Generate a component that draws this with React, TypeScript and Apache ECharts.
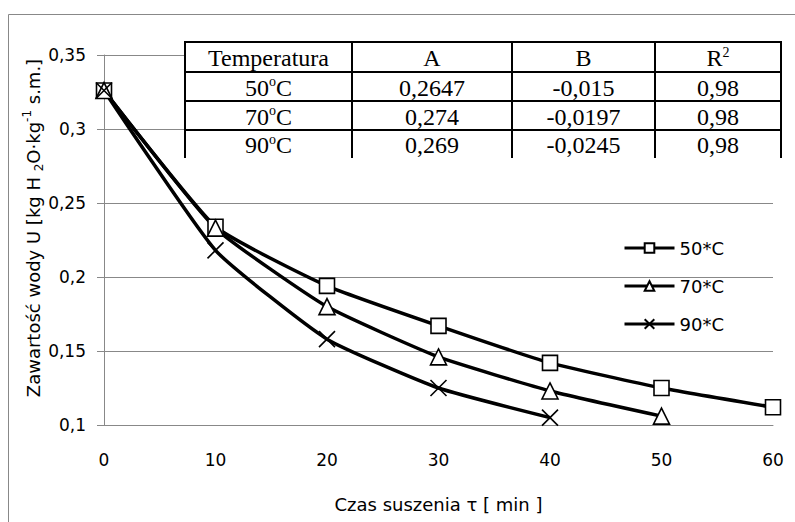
import React, { useEffect, useRef } from "react";
import * as echarts from "echarts";

// ---- data ----
const times = [0, 10, 20, 30, 40, 50, 60];
const u50 = [0.326, 0.234, 0.194, 0.167, 0.142, 0.125, 0.112];
const u70 = [0.326, 0.233, 0.18, 0.146, 0.123, 0.106];
const u90 = [0.326, 0.218, 0.158, 0.125, 0.105];
const seriesNames = ["50*C", "70*C", "90*C"];

const tableHeader = ["Temperatura", "A", "B", "R2"];
const tableTemps = ["50", "70", "90"];
const tableA = ["0,2647", "0,274", "0,269"];
const tableB = ["-0,015", "-0,0197", "-0,0245"];
const tableR2 = ["0,98", "0,98", "0,98"];

const xTitle = "Czas suszenia τ [ min ]";

// ---- layout ----
const colX = [185, 352, 512, 655, 781];
const rowY = [42, 72, 101, 130, 158];
const SANS = "DejaVu Sans";
const SERIF = "Liberation Serif";

function buildTable(): any[] {
  const els: any[] = [];
  els.push({
    type: "rect",
    z: 100,
    shape: { x: colX[0], y: rowY[0], width: colX[4] - colX[0], height: rowY[4] - rowY[0] },
    style: { fill: "#fff", stroke: null },
  });
  for (let i = 0; i < 4; i++) {
    els.push({
      type: "line",
      z: 101,
      shape: { x1: colX[0] - 1, y1: rowY[i], x2: colX[4] + 1, y2: rowY[i] },
      style: { stroke: "#000", lineWidth: 2 },
    });
  }
  for (let i = 0; i < colX.length; i++) {
    els.push({
      type: "line",
      z: 101,
      shape: { x1: colX[i], y1: rowY[0], x2: colX[i], y2: rowY[4] },
      style: { stroke: "#000", lineWidth: 2 },
    });
  }
  const rich = {
    n: { fontFamily: SERIF, fontSize: 24, lineHeight: 26, fill: "#000" },
    s: { fontFamily: SERIF, fontSize: 14, lineHeight: 13, verticalAlign: "top", fill: "#000" },
  };
  const rows: string[][] = [];
  rows.push([
    `{n|${tableHeader[0]}}`,
    `{n|${tableHeader[1]}}`,
    `{n|${tableHeader[2]}}`,
    `{n|${tableHeader[3][0]}}{s|${tableHeader[3].slice(1)}}`,
  ]);
  for (let r = 0; r < tableTemps.length; r++) {
    rows.push([
      `{n|${tableTemps[r]}}{s|o}{n|C}`,
      `{n|${tableA[r]}}`,
      `{n|${tableB[r]}}`,
      `{n|${tableR2[r]}}`,
    ]);
  }
  rows.forEach((row, r) => {
    row.forEach((txt, c) => {
      els.push({
        type: "text",
        z: 102,
        x: (colX[c] + colX[c + 1]) / 2,
        y: (rowY[r] + rowY[r + 1]) / 2 + 1,
        style: {
          text: txt,
          rich,
          align: "center",
          verticalAlign: "middle",
          fill: "#000",
        },
      });
    });
  });
  return els;
}

export default function App() {
  const ref = useRef<HTMLDivElement>(null);
  useEffect(() => {
    if (!ref.current) return;
    const chart = echarts.init(ref.current, null, { renderer: "svg" });
    const fmt = (v: number) => String(+v.toFixed(2)).replace(".", ",");
    const mkSeries = (name: string, vals: number[], symbol: string, size: number) => ({
      name,
      type: "line",
      data: vals.map((v, i) => [times[i], v]),
      smooth: 0.15,
      symbol,
      symbolSize: size,
      showSymbol: true,
      lineStyle: { color: "#000", width: 3.5 },
      itemStyle: { color: "#fff", borderColor: "#000", borderWidth: 1.6 },
      emphasis: { disabled: true },
    });
    chart.setOption({
      animation: false,
      backgroundColor: "#fff",
      grid: { left: 104, right: 22, top: 55, bottom: 97, containLabel: false },
      legend: {
        orient: "vertical",
        left: 618,
        top: 234,
        itemWidth: 50,
        itemHeight: 12,
        itemGap: 20,
        data: seriesNames,
        lineStyle: { width: 3, color: "#000" },
        textStyle: { fontFamily: SANS, fontSize: 18, color: "#000" },
      },
      xAxis: {
        type: "value",
        min: 0,
        max: 60,
        interval: 10,
        axisLine: { show: true, lineStyle: { color: "#888", width: 1 } },
        axisTick: { show: false },
        splitLine: { show: false },
        axisLabel: { margin: 26, fontFamily: SANS, fontSize: 17, color: "#000" },
        name: xTitle,
        nameLocation: "middle",
        nameGap: 70,
        nameTextStyle: { fontFamily: SANS, fontSize: 18, color: "#000" },
      },
      yAxis: {
        type: "value",
        min: 0.1,
        max: 0.35,
        interval: 0.05,
        axisLine: { show: true, lineStyle: { color: "#888", width: 1 } },
        axisTick: { show: true, length: 7, lineStyle: { color: "#888" } },
        splitLine: { show: true, lineStyle: { color: "#888", width: 1 } },
        axisLabel: {
          margin: 18,
          fontFamily: SANS,
          fontSize: 17,
          color: "#000",
          formatter: (v: number) => fmt(v),
        },
      },
      series: [
        mkSeries(seriesNames[0], u50, "rect", 15),
        mkSeries(seriesNames[1], u70, "triangle", 16),
        mkSeries(seriesNames[2], u90, "path://M0,0L10,10M10,0L0,10", 16),
      ],
      graphic: [
        {
          type: "rect",
          z: -1,
          shape: { x: 8.5, y: 14.5, width: 820, height: 560 },
          style: { fill: null, stroke: "#888", lineWidth: 1 },
          silent: true,
        },
        {
          type: "text",
          x: 33,
          y: 228,
          rotation: Math.PI / 2,
          style: {
            text: "{a|Zawartość wody U [kg H }{b|2}{a|O·kg}{c|-1}{a| s.m.]}",
            rich: {
              a: { fontFamily: SANS, fontSize: 18, lineHeight: 24, fill: "#000" },
              b: { fontFamily: SANS, fontSize: 12, lineHeight: 13, verticalAlign: "bottom", fill: "#000" },
              c: { fontFamily: SANS, fontSize: 12, lineHeight: 13, verticalAlign: "top", fill: "#000" },
            },
            align: "center",
            verticalAlign: "middle",
          },
        },
        ...buildTable(),
      ],
    });
    return () => chart.dispose();
  }, []);
  return (
    <div
      ref={ref}
      style={{ position: "absolute", left: 0, top: 0, width: 795, height: 522 }}
    />
  );
}
